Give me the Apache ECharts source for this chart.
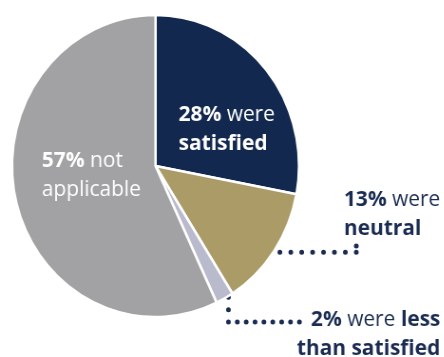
<!DOCTYPE html>
<html>
<head>
<meta charset="utf-8">
<script src="https://cdn.jsdelivr.net/npm/echarts@6/dist/echarts.min.js"></script>
<style>
  html, body { margin: 0; padding: 0; background: #fff; overflow: hidden; }
  #wrap { width: 444px; height: 357px; overflow: hidden; }
  /* the chart is drawn slightly wider and narrowed horizontally */
  #chart { width: 467px; height: 357px; transform: scaleX(0.95); transform-origin: 0 0; }
</style>
</head>
<body>
<div id="wrap"><div id="chart"></div></div>
<script>
// Survey response shares, clockwise from the top
const categories = ['were satisfied', 'were neutral', 'were less than satisfied', 'not applicable'];
const shares = [28, 13, 2, 57];
const sliceColors = ['#12284f', '#ab9b67', '#b9bbcd', '#a2a2a4'];

const NAVY = '#1b2c52';
const FONT = '"Open Sans", "Noto Sans", sans-serif';
const CENTER = [163.7, 166];
const RADIUS = 151;

// Label text per slice (rich text: bold value + regular words)
function labelText(i) {
  const v = shares[i] + '%';
  switch (i) {
    case 0: return '{b|' + v + '}{r| were}\n{b|satisfied}';
    case 1: return '{b|' + v + '}{r| were}\n{b|neutral}';
    case 2: return '{b|' + v + '}{r| were }{b|less}\n{b|than satisfied}';
    default: return '{b|' + v + '}{r| not}\n{r|applicable}';
  }
}

function rich(color) {
  return {
    b: { fontFamily: FONT, fontWeight: 'bold', fontSize: 22, color: color, lineHeight: 29 },
    r: { fontFamily: FONT, fontWeight: 'normal', fontSize: 22, color: color, lineHeight: 29 }
  };
}

// Point on the rim at the middle of slice i
function rimPoint(i) {
  const total = shares.reduce((a, b) => a + b, 0);
  let before = 0;
  for (let k = 0; k < i; k++) before += shares[k];
  const ang = (before + shares[i] / 2) / total * 2 * Math.PI;
  return [CENTER[0] + RADIUS * Math.sin(ang), CENTER[1] - RADIUS * Math.cos(ang)];
}

// Leader paths for the two outside labels (the last point runs a little past the final dot)
const rim1 = rimPoint(1), rim2 = rimPoint(2);
const leaders = {
  1: [[rim1[0] + 6, 252.3], [375, 252.3], [375, 244.5]],
  2: [[rim2[0] + 4, 297.3], [rim2[0] + 4, 322], [316.5, 322]]
};
// Distance of the final dot from the start of the last segment
const lastDot = { 1: 6.3, 2: 74.7 };

// Dotted pattern: evenly spaced dots along each segment
function dotPattern(points, counts, last) {
  const arr = [];
  for (let s = 0; s < counts.length; s++) {
    const u = points[s], v = points[s + 1];
    const isLast = s === counts.length - 1;
    const len = isLast ? last : Math.hypot(v[0] - u[0], v[1] - u[1]);
    for (let k = 0; k < counts[s]; k++) arr.push(0, len / counts[s]);
  }
  arr.push(0, 400);
  return arr;
}
const leaderDots = {
  1: dotPattern(leaders[1], [7, 1], lastDot[1]),
  2: dotPattern(leaders[2], [2, 8], lastDot[2])
};

const insideIdx = [0, 3];
const data = categories.map((name, i) => {
  const inside = insideIdx.indexOf(i) >= 0;
  return {
    name: name,
    value: shares[i],
    itemStyle: { color: sliceColors[i] },
    label: {
      show: true,
      position: inside ? 'inside' : 'outside',
      formatter: labelText(i),
      rich: rich(inside ? '#fff' : NAVY),
      align: i === 2 ? 'right' : 'left'
    },
    labelLine: {
      show: !inside,
      lineStyle: { color: NAVY, width: 5, cap: 'round', type: leaderDots[i] || 'solid' }
    }
  };
});

// Where each label block sits (top-left, or top-right for right-aligned)
const labelPlacement = {
  0: { x: 188, y: 100.5 },
  1: { x: 362, y: 185.5 },
  2: { x: 463.5, y: 305.5 },
  3: { x: 44, y: 146 }
};

const chart = echarts.init(document.getElementById('chart'), null, { renderer: 'canvas' });
chart.setOption({
  animation: false,
  series: [{
    type: 'pie',
    center: CENTER,
    radius: [0, RADIUS],
    startAngle: 90,
    clockwise: true,
    avoidLabelOverlap: false,
    itemStyle: { borderColor: '#fff', borderWidth: 2.5 },
    emphasis: { disabled: true },
    label: { fontFamily: FONT },
    labelLayout: function (params) {
      const i = params.dataIndex;
      const p = labelPlacement[i];
      const out = {
        x: p.x,
        y: p.y,
        align: i === 2 ? 'right' : 'left',
        verticalAlign: 'top',
        hideOverlap: false,
        moveOverlap: false
      };
      if (leaders[i]) out.labelLinePoints = leaders[i];
      return out;
    },
    data: data
  }]
});
</script>
</body>
</html>
